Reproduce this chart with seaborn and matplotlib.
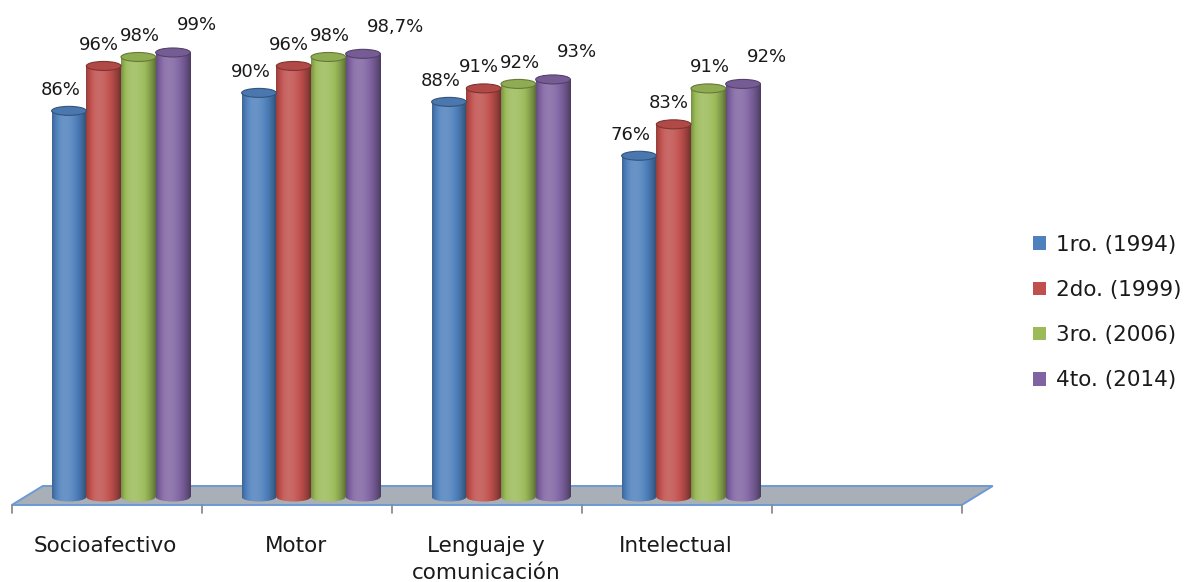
import numpy as np
import pandas as pd
import seaborn as sns
import matplotlib.pyplot as plt
from matplotlib.patches import Ellipse, Polygon, Patch
from matplotlib.colors import to_rgb

# data
categories = ['Socioafectivo', 'Motor', 'Lenguaje y\ncomunicación', 'Intelectual']
series = ['1ro. (1994)', '2do. (1999)', '3ro. (2006)', '4to. (2014)']
v1994 = [86, 90, 88, 76]
v1999 = [96, 96, 91, 83]
v2006 = [98, 98, 92, 91]
v2014 = [99, 98.7, 93, 92]
colors = ['#4F81BD', '#C0504D', '#9BBB59', '#8064A2']
n_slots = 5  # the original chart keeps one empty category slot on the right

df = pd.DataFrame({
    'Area': categories * 4,
    'Serie': [s for s in series for _ in categories],
    'Valor': v1994 + v1999 + v2006 + v2014,
})

sns.set_theme(style='white')
plt.rcParams['font.family'] = ['DejaVu Sans']

fig = plt.figure(figsize=(11.85, 5.82), dpi=100)
ax = fig.add_axes([0, 0, 1, 1])

sns.barplot(data=df, x='Area', y='Valor', hue='Serie', order=categories,
            hue_order=series, palette=colors, width=0.73, legend=False,
            saturation=1, ax=ax)

# pixel -> data mapping used for the decorations
px_x = 190.0       # pixels per category
px_y = 4.49        # pixels per percentage point
xlim = (-121 / px_x, (1185 - 121) / px_x)
ylim = ((497 - 582) / px_y, 497 / px_y)
ell_h = 9 / px_y   # height of the cylinder caps


def shade(c, b):
    c = np.array(c)
    return c + b * (1 - c) if b > 0 else c * (1 + b)


t = np.linspace(0, 1, 64)
bright = np.where(t < 0.35, 0.15 - 3.0 * (t - 0.35) ** 2, 0.15 - 1.3 * (t - 0.35) ** 2)

# floor of the 3d chart
tick_x = [i - 0.575 for i in range(n_slots + 1)]
fl_lo, fl_hi = -8 / px_y, 11 / px_y
slant = 31 / px_x
floor = Polygon([(tick_x[0], fl_lo), (tick_x[-1], fl_lo),
                 (tick_x[-1] + slant, fl_hi), (tick_x[0] + slant, fl_hi)],
                closed=True, facecolor='#A9AFB7', edgecolor='#6C9AD4', lw=1.4, zorder=0.5)
ax.add_patch(floor)
for tx in tick_x:
    ax.plot([tx, tx], [fl_lo, fl_lo - 8 / px_y], color='#8C8C8C', lw=1.3, zorder=0.6)

label_dx = [-8, -5, 2, 4]
for k, cont in enumerate(ax.containers):
    base = to_rgb(colors[k])
    grad = np.array([shade(base, b) for b in bright])[None, :, :]
    for bar, val in zip(cont.patches, df[df['Serie'] == series[k]]['Valor']):
        x0, w, h = bar.get_x(), bar.get_width(), bar.get_height()
        bar.set_visible(False)
        # bottom cap
        bot = Ellipse((x0 + w / 2, 0), w, ell_h, facecolor='none', edgecolor='none', zorder=1)
        ax.add_patch(bot)
        im = ax.imshow(grad, extent=[x0, x0 + w, -ell_h / 2, ell_h / 2], aspect='auto', zorder=1)
        im.set_clip_path(bot)
        # body
        ax.imshow(grad, extent=[x0, x0 + w, 0, h], aspect='auto', zorder=2)
        # top cap
        ax.add_patch(Ellipse((x0 + w / 2, h), w, ell_h, facecolor=shade(base, -0.08),
                             edgecolor=shade(base, -0.35), lw=0.8, zorder=3))
        txt = f'{val:.0f}%' if float(val).is_integer() else f'{val:.1f}%'.replace('.', ',')
        if k == 3:
            ax.text(x0 + w / 2 + label_dx[k] / px_x, h + 27 / px_y, txt, ha='left',
                    va='center', fontsize=13, color='#1A1A1A', zorder=4)
        else:
            ax.text(x0 + w / 2 + label_dx[k] / px_x, h + 21 / px_y, txt, ha='center',
                    va='center', fontsize=13, color='#1A1A1A', zorder=4)

# category labels centred between ticks
for i, name in enumerate(categories):
    ax.text(i - 0.08, -39 / px_y, name, ha='center', va='top', fontsize=15.5,
            color='#1A1A1A', linespacing=1.45)

ax.set_xlim(*xlim)
ax.set_ylim(*ylim)
ax.axis('off')

handles = [Patch(facecolor=c, edgecolor='none') for c in colors]
fig.legend(handles, series, loc='upper left', bbox_to_anchor=(1022 / 1185, 1 - 224 / 582),
           frameon=False, fontsize=15.5, handlelength=0.6, handleheight=0.6,
           handletextpad=0.5, labelspacing=1.17, borderpad=0, labelcolor='#1A1A1A')

fig.savefig('out.png', dpi=100)
